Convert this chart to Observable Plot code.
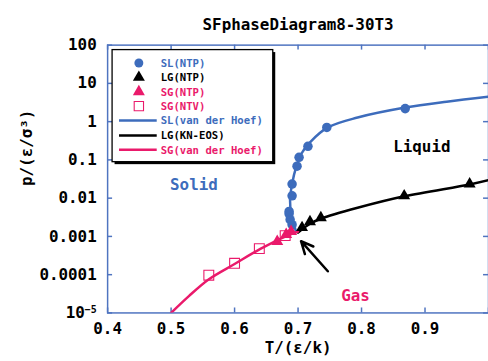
<!DOCTYPE html>
<html><head><meta charset="utf-8">
<script src="https://cdn.jsdelivr.net/npm/d3@7"></script>
<script src="https://cdn.jsdelivr.net/npm/@observablehq/plot@0.6"></script>
<style>
html,body{margin:0;padding:0;background:#fff;overflow:hidden;width:488px;height:361px}
#chart{width:488px;height:361px;overflow:hidden;position:relative}
svg{display:block}
</style></head><body><div id="chart"></div>
<script>
// ---- data ----
const titleText = "SFphaseDiagram8-30T3";
const xLabel = "T/(ε/k)";
const yLabel = "p/(ε/σ³)";
const xTicks = [0.4, 0.5, 0.6, 0.7, 0.8, 0.9, 1.0];
const xTickLabels = ["0.4", "0.5", "0.6", "0.7", "0.8", "0.9", ""];
const yTicks = [100, 10, 1, 0.1, 0.01, 0.001, 0.0001, 0.00001];
const yTickLabels = ["100", "10", "1", "0.1", "0.01", "0.001", "0.0001", "10^-5"];

// SL (NTP) simulation points
const slT = [0.6906, 0.6875, 0.6859, 0.6859, 0.6906, 0.6906, 0.6984, 0.7016, 0.7156, 0.7453, 0.8688];
const slP = [0.00203, 0.00273, 0.0039, 0.0045, 0.0115, 0.0234, 0.0687, 0.117, 0.226, 0.705, 2.19];
// LG (NTP)
const lgT = [0.7063, 0.7188, 0.7359, 0.8672, 0.9703];
const lgP = [0.0017, 0.00243, 0.00308, 0.0115, 0.0234];
// SG (NTP)
const sgT = [0.6672, 0.6813, 0.6890];
const sgP = [0.000735, 0.00112, 0.00134];
// SG (NTV)
const sgvT = [0.5594, 0.6, 0.639, 0.6797];
const sgvP = [0.000097, 0.000198, 0.00048, 0.00105];

// SL (van der Hoef) curve
const slCurveT = [0.6969, 0.6891, 0.6875, 0.6906, 0.6969, 0.7047, 0.7188, 0.7469, 0.7938, 0.8688, 0.934, 1.0];
const slCurveP = [0.00134, 0.0039, 0.0096, 0.0234, 0.0647, 0.1406, 0.288, 0.705, 1.28, 2.33, 3.33, 4.49];
// LG (KN-EOS) curve
const lgCurveT = [0.7, 0.7188, 0.7359, 0.7938, 0.8672, 0.9703, 1.0];
const lgCurveP = [0.00126, 0.00215, 0.0029, 0.0056, 0.0112, 0.0228, 0.0295];
// SG (van der Hoef) curve
const sgCurveT = [0.5, 0.528, 0.559, 0.6, 0.6406, 0.6797, 0.7];
const sgCurveP = [0.00001, 0.0000275, 0.000075, 0.00019, 0.00047, 0.00099, 0.00134];

// region labels
const regionNames = ["Solid", "Liquid", "Gas"];
const regionT = [0.536, 0.895, 0.7906];
const regionP = [0.022, 0.214, 0.0000275];
// arrow (triple point pointer)
const arrowFromT = [0.7469], arrowFromP = [0.000123];
const arrowToT = [0.7047], arrowToP = [0.00075];

const legendLabels = ["SL(NTP)", "LG(NTP)", "SG(NTP)", "SG(NTV)", "SL(van der Hoef)", "LG(KN-EOS)", "SG(van der Hoef)"];

// ---- styles ----
const BLUE = "#3d6cbc";
const PINK = "#ea1a6b";
const FRAME = "#4f74c0";
const FONT = "DejaVu Sans Mono";

const zipTP = (T, P) => T.map((t, i) => ({T: t, p: P[i]}));
const slPts = zipTP(slT, slP), lgPts = zipTP(lgT, lgP), sgPts = zipTP(sgT, sgP), sgvPts = zipTP(sgvT, sgvP);
const slCurve = zipTP(slCurveT, slCurveP), lgCurve = zipTP(lgCurveT, lgCurveP), sgCurve = zipTP(sgCurveT, sgCurveP);
const regions = regionNames.map((n, i) => ({name: n, T: regionT[i], p: regionP[i]}));
const arrows = arrowFromT.map((t, i) => ({x1: t, y1: arrowFromP[i], x2: arrowToT[i], y2: arrowToP[i]}));
const yFmt = new Map(yTicks.map((v, i) => [v, yTickLabels[i]]));
const xFmt = new Map(xTicks.map((v, i) => [v, xTickLabels[i]]));

const W = 492, H = 361, ML = 108, MR = 0, MT = 45, MB = 46;
const fw = W - ML - MR, fh = H - MT - MB, TL = 5;

const chart = Plot.plot({
  width: W, height: H,
  marginLeft: ML, marginRight: MR, marginTop: MT, marginBottom: MB,
  style: {fontFamily: FONT, fontWeight: "bold", fontSize: "16px", background: "white", color: "black"},
  x: {domain: [0.4, 1.0], label: null},
  y: {type: "log", domain: [0.00001, 100], label: null},
  marks: [
    Plot.frame({stroke: FRAME, strokeWidth: 1.5}),
    Plot.tickY(yTicks, {y: d => d, stroke: FRAME, strokeWidth: 1.5, insetRight: fw - TL}),
    Plot.tickY(yTicks, {y: d => d, stroke: FRAME, strokeWidth: 1.5, insetLeft: fw - TL}),
    Plot.tickX(xTicks, {x: d => d, stroke: FRAME, strokeWidth: 1.5, insetTop: fh - TL}),
    Plot.tickX(xTicks, {x: d => d, stroke: FRAME, strokeWidth: 1.5, insetBottom: fh - TL}),
    Plot.axisY({ticks: yTicks, tickSize: 0, tickPadding: 11, tickFormat: d => yFmt.get(d), fontSize: 16, fontWeight: "bold", fill: "black"}),
    Plot.axisX({ticks: xTicks, tickSize: 0, tickPadding: 10, tickFormat: d => xFmt.get(d), fontSize: 16, fontWeight: "bold", fill: "black"}),
    Plot.line(slCurve, {x: "T", y: "p", stroke: BLUE, strokeWidth: 2.5, curve: "catmull-rom", clip: true}),
    Plot.line(lgCurve, {x: "T", y: "p", stroke: "black", strokeWidth: 2.5, curve: "catmull-rom", clip: true}),
    Plot.line(sgCurve, {x: "T", y: "p", stroke: PINK, strokeWidth: 2.5, curve: "catmull-rom", clip: true}),
    Plot.dot(slPts, {x: "T", y: "p", r: 4.8, fill: BLUE, symbol: "circle"}),
    Plot.dot(lgPts, {x: "T", y: "p", r: 4.5, fill: "black", symbol: "triangle"}),
    Plot.dot(sgvPts, {x: "T", y: "p", r: 5.6, fill: "none", stroke: PINK, strokeWidth: 1.1, symbol: "square"}),
    Plot.dot(sgPts, {x: "T", y: "p", r: 4.5, fill: PINK, symbol: "triangle"}),
    Plot.text(regions, {x: "T", y: "p", text: "name", fontSize: 16, fontWeight: "bold",
      fill: d => d.name === "Liquid" ? "black" : (d.name === "Solid" ? BLUE : PINK)}),
    Plot.arrow(arrows, {x1: "x1", y1: "y1", x2: "x2", y2: "y2", stroke: "black", strokeWidth: 2.5, headLength: 14, headAngle: 50}),
    Plot.text([titleText], {frameAnchor: "top", lineAnchor: "middle", dy: -20, fontSize: 16, fontWeight: "bold", fill: "black"}),
    Plot.text([xLabel], {frameAnchor: "bottom", lineAnchor: "middle", dy: 35, fontSize: 16, fontWeight: "bold", fill: "black"}),
    Plot.text([yLabel], {frameAnchor: "left", lineAnchor: "middle", dx: -81, dy: 7, rotate: -90, fontSize: 16, fontWeight: "bold", fill: "black"})
  ]
});

// fix the 10^-5 label with a real superscript
d3.select(chart).selectAll("text").each(function() {
  const t = d3.select(this);
  if (t.text() === "10^-5") {
    t.text("10");
    t.append("tspan").attr("dy", "-0.55em").attr("font-size", 10).text("−5");
  }
});

// legend box
const svg = d3.select(chart);
const lg = svg.append("g").attr("font-family", FONT).attr("font-weight", "bold").attr("font-size", 10.7).attr("text-anchor", "start");
const bx = 113, by = 50, bw = 162, bh = 113;
lg.append("rect").attr("x", bx + 2.5).attr("y", by + 2.5).attr("width", bw).attr("height", bh).attr("fill", "black");
lg.append("rect").attr("x", bx).attr("y", by).attr("width", bw).attr("height", bh).attr("fill", "white").attr("stroke", "black").attr("stroke-width", 1.3);
const rowY = [63.5, 78, 92.5, 107, 121.5, 136.5, 151];
const legendColor = [BLUE, "black", PINK, PINK, BLUE, "black", PINK];
const sym = (type, r) => d3.symbol().type(type).size(Math.PI * r * r)();
legendLabels.forEach((lab, i) => {
  const y = rowY[i];
  const c = legendColor[i];
  if (i === 0) lg.append("path").attr("d", sym(d3.symbolCircle, 4.5)).attr("transform", `translate(140,${y})`).attr("fill", c);
  if (i === 1 || i === 2) lg.append("path").attr("d", sym(d3.symbolTriangle, 4.5)).attr("transform", `translate(140,${y})`).attr("fill", c);
  if (i === 3) lg.append("path").attr("d", sym(d3.symbolSquare, 5.3)).attr("transform", `translate(140,${y})`).attr("fill", "none").attr("stroke", c).attr("stroke-width", 1.1);
  if (i >= 4) lg.append("line").attr("x1", 120).attr("x2", 158).attr("y1", y).attr("y2", y).attr("stroke", c).attr("stroke-width", 2.5);
  lg.append("text").attr("x", 162).attr("y", y).attr("dy", "0.36em").attr("text-anchor", "start").attr("fill", c).text(lab);
});

document.getElementById("chart").appendChild(chart);
</script></body></html>
